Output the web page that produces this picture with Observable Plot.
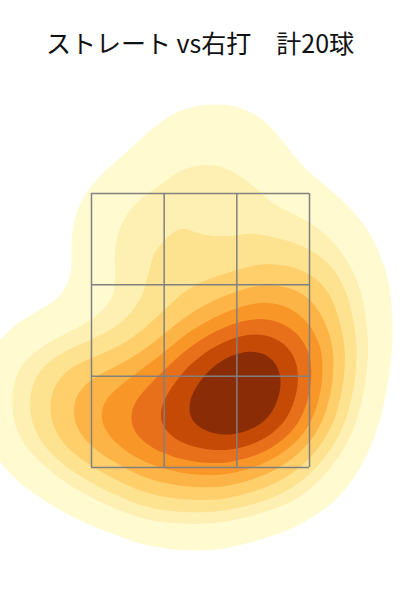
<!DOCTYPE html>
<html><head><meta charset="utf-8">
<script src="https://cdn.jsdelivr.net/npm/d3@7"></script>
<script src="https://cdn.jsdelivr.net/npm/@observablehq/plot@0.6"></script>
<style>
body{margin:0;background:#fff;}
#title{height:80px;line-height:84px;text-align:center;font-family:"Noto Sans CJK JP","Noto Sans",sans-serif;font-size:25px;color:#111;white-space:pre;}
</style></head>
<body>
<div id="title">ストレート vs右打　計20球</div>
<div id="chart"></div>
<script>
// pitch locations in strike-zone units (zone spans 0..3 horizontally and vertically)
const pitchX = [1.50,1.84,2.19,1.22,2.46,1.84,2.49,1.29,2.60,2.74,2.88,2.67,0.26,-0.01,0.81,1.71,0.67,2.26,1.22,-0.50];
const pitchY = [0.79,0.73,0.84,0.65,0.82,0.97,0.65,1.88,1.01,2.32,1.72,1.34,0.60,0.62,0.30,3.27,2.51,0.10,-0.01,0.79];
const zoneLinesX = [0,1,2,3];
const zoneLinesY = [0,1,2,3];
// contour levels as iso-proportions of probability mass
const massLevels = [0.05,0.156,0.261,0.367,0.472,0.578,0.683,0.789,0.894];
const bandColors = ["#fffad0","#fef0b3","#fde290","#fecf6a","#fdb446","#f99628","#e8701a","#c44a06","#8a2d06"];

const W = 400, H = 520, BW = 48;
const xDomain = [-1.252, 4.252], yDomain = [-1.456, 4.237];
const pitches = pitchX.map((x,i)=>({x, y: pitchY[i]}));

const base = {
  width: W, height: H, margin: 0,
  x: {domain: xDomain, axis: null},
  y: {domain: yDomain, axis: null}
};

// probe: the library's own maximum density (in its density units)
const probe = Plot.plot({...base, color: {type: "linear"},
  marks: [Plot.density(pitches, {x: "x", y: "y", fill: "density", bandwidth: BW, thresholds: 400})]});
const plotMax = probe.scale("color").domain[1];

// mass quantiles from a gaussian grid in pixel space (unit-free fractions of the max)
const px = pitches.map(d => (d.x - xDomain[0]) / (xDomain[1] - xDomain[0]) * W);
const py = pitches.map(d => (yDomain[1] - d.y) / (yDomain[1] - yDomain[0]) * H);
const vals = [];
for (let gx = -300; gx <= W + 300; gx += 3) {
  for (let gy = -300; gy <= H + 300; gy += 3) {
    let s = 0;
    for (let i = 0; i < px.length; i++) {
      const dx = gx - px[i], dy = gy - py[i];
      s += Math.exp(-(dx*dx + dy*dy) / (2*BW*BW));
    }
    vals.push(s);
  }
}
vals.sort((a,b) => b - a);
const total = d3.sum(vals);
const myMax = vals[0];
const levelVals = [];
let cum = 0, li = massLevels.length - 1;
for (const v of vals) {
  cum += v;
  while (li >= 0 && cum / total >= 1 - massLevels[li]) { levelVals[li] = v; li--; }
  if (li < 0) break;
}
const thresholds = levelVals.map(v => v / myMax * plotMax);
const bounds = thresholds.slice(0, -1).map((t,i) => (t + thresholds[i+1]) / 2);

const chart = Plot.plot({
  ...base,
  color: {type: "threshold", domain: bounds, range: bandColors},
  marks: [
    Plot.density(pitches, {x: "x", y: "y", fill: "density", bandwidth: BW, thresholds}),
    Plot.ruleX(zoneLinesX, {x: d=>d, y1: 0, y2: 3, stroke: "#808080", strokeWidth: 1.5}),
    Plot.ruleY(zoneLinesY, {y: d=>d, x1: 0, x2: 3, stroke: "#808080", strokeWidth: 1.5})
  ]
});
document.getElementById("chart").appendChild(chart);
</script>
</body></html>
